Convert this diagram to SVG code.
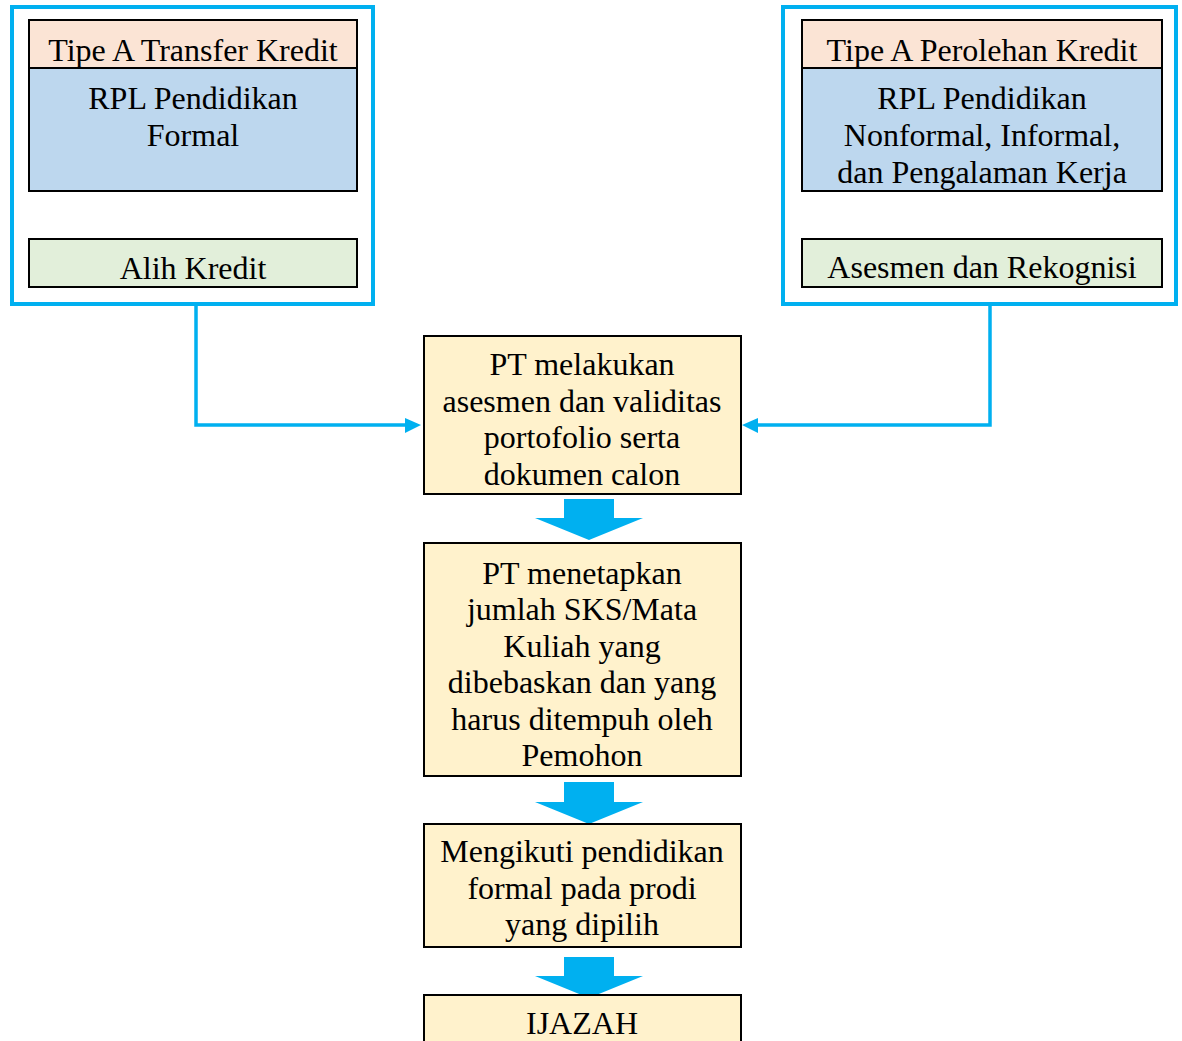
<svg xmlns="http://www.w3.org/2000/svg" width="1182" height="1041" viewBox="0 0 1182 1041">
<style>
text{font-family:"Liberation Serif","Times New Roman",serif;font-size:32px;fill:#000;text-anchor:middle}
.frame{fill:#fff;stroke:#00B0F0;stroke-width:4}
.box{stroke:#000;stroke-width:2}
.hd{fill:#FBE4D5}.bl{fill:#BDD7EE}.gr{fill:#E2EFDA}.ye{fill:#FFF2CC}
.conn{fill:none;stroke:#00B0F0;stroke-width:3.5}
.big{fill:#00B0F0}
</style>
<defs>
<marker id="ah" viewBox="0 0 10 10" refX="9" refY="5" markerWidth="5" markerHeight="5" markerUnits="strokeWidth" orient="auto">
<path d="M0,0 L10,5 L0,10 z" fill="#00B0F0"/>
</marker>
</defs>
<rect width="1182" height="1041" fill="#fff"/>
<g id="left-group">
<rect class="frame" x="12" y="7" width="361" height="297"/>
<rect class="box hd" x="29" y="20" width="328" height="48"/>
<text x="193" y="61">Tipe A Transfer Kredit</text>
<rect class="box bl" x="29" y="68" width="328" height="123"/>
<text x="193" y="109">RPL Pendidikan</text>
<text x="193" y="146">Formal</text>
<rect class="box gr" x="29" y="239" width="328" height="48"/>
<text x="193" y="279">Alih Kredit</text>
</g>
<g id="right-group">
<rect class="frame" x="783" y="7" width="393" height="297"/>
<rect class="box hd" x="802" y="20" width="360" height="48"/>
<text x="982" y="61">Tipe A Perolehan Kredit</text>
<rect class="box bl" x="802" y="68" width="360" height="123"/>
<text x="982" y="109">RPL Pendidikan</text>
<text x="982" y="146">Nonformal, Informal,</text>
<text x="982" y="183">dan Pengalaman Kerja</text>
<rect class="box gr" x="802" y="239" width="360" height="48"/>
<text x="982" y="278">Asesmen dan Rekognisi</text>
</g>
<g id="connectors">
<polyline class="conn" points="196,306 196,425 406,425"/>
<polygon class="big" points="405,418 421,425 405,433"/>
<polyline class="conn" points="990,306 990,425 757,425"/>
<polygon class="big" points="758,418 742,425 758,433"/>
<polygon class="big" points="564,499 614,499 614,518 643,518 589,540 535,518 564,518"/>
<polygon class="big" points="564,782 614,782 614,802 643,802 589,824 535,802 564,802"/>
<polygon class="big" points="564,957 614,957 614,976 643,976 589,998 535,976 564,976"/>
</g>
<g id="assessment">
<rect class="box ye" x="424" y="336" width="317" height="158"/>
<text x="582" y="375">PT melakukan</text>
<text x="582" y="412">asesmen dan validitas</text>
<text x="582" y="448">portofolio serta</text>
<text x="582" y="485">dokumen calon</text>
</g>
<g id="sks">
<rect class="box ye" x="424" y="543" width="317" height="233"/>
<text x="582" y="584">PT menetapkan</text>
<text x="582" y="620">jumlah SKS/Mata</text>
<text x="582" y="657">Kuliah yang</text>
<text x="582" y="693">dibebaskan dan yang</text>
<text x="582" y="730">harus ditempuh oleh</text>
<text x="582" y="766">Pemohon</text>
</g>
<g id="education">
<rect class="box ye" x="424" y="824" width="317" height="123"/>
<text x="582" y="862">Mengikuti pendidikan</text>
<text x="582" y="899">formal pada prodi</text>
<text x="582" y="935">yang dipilih</text>
</g>
<g id="ijazah">
<rect class="box ye" x="424" y="995" width="317" height="60"/>
<text x="582" y="1034">IJAZAH</text>
</g>
</svg>
